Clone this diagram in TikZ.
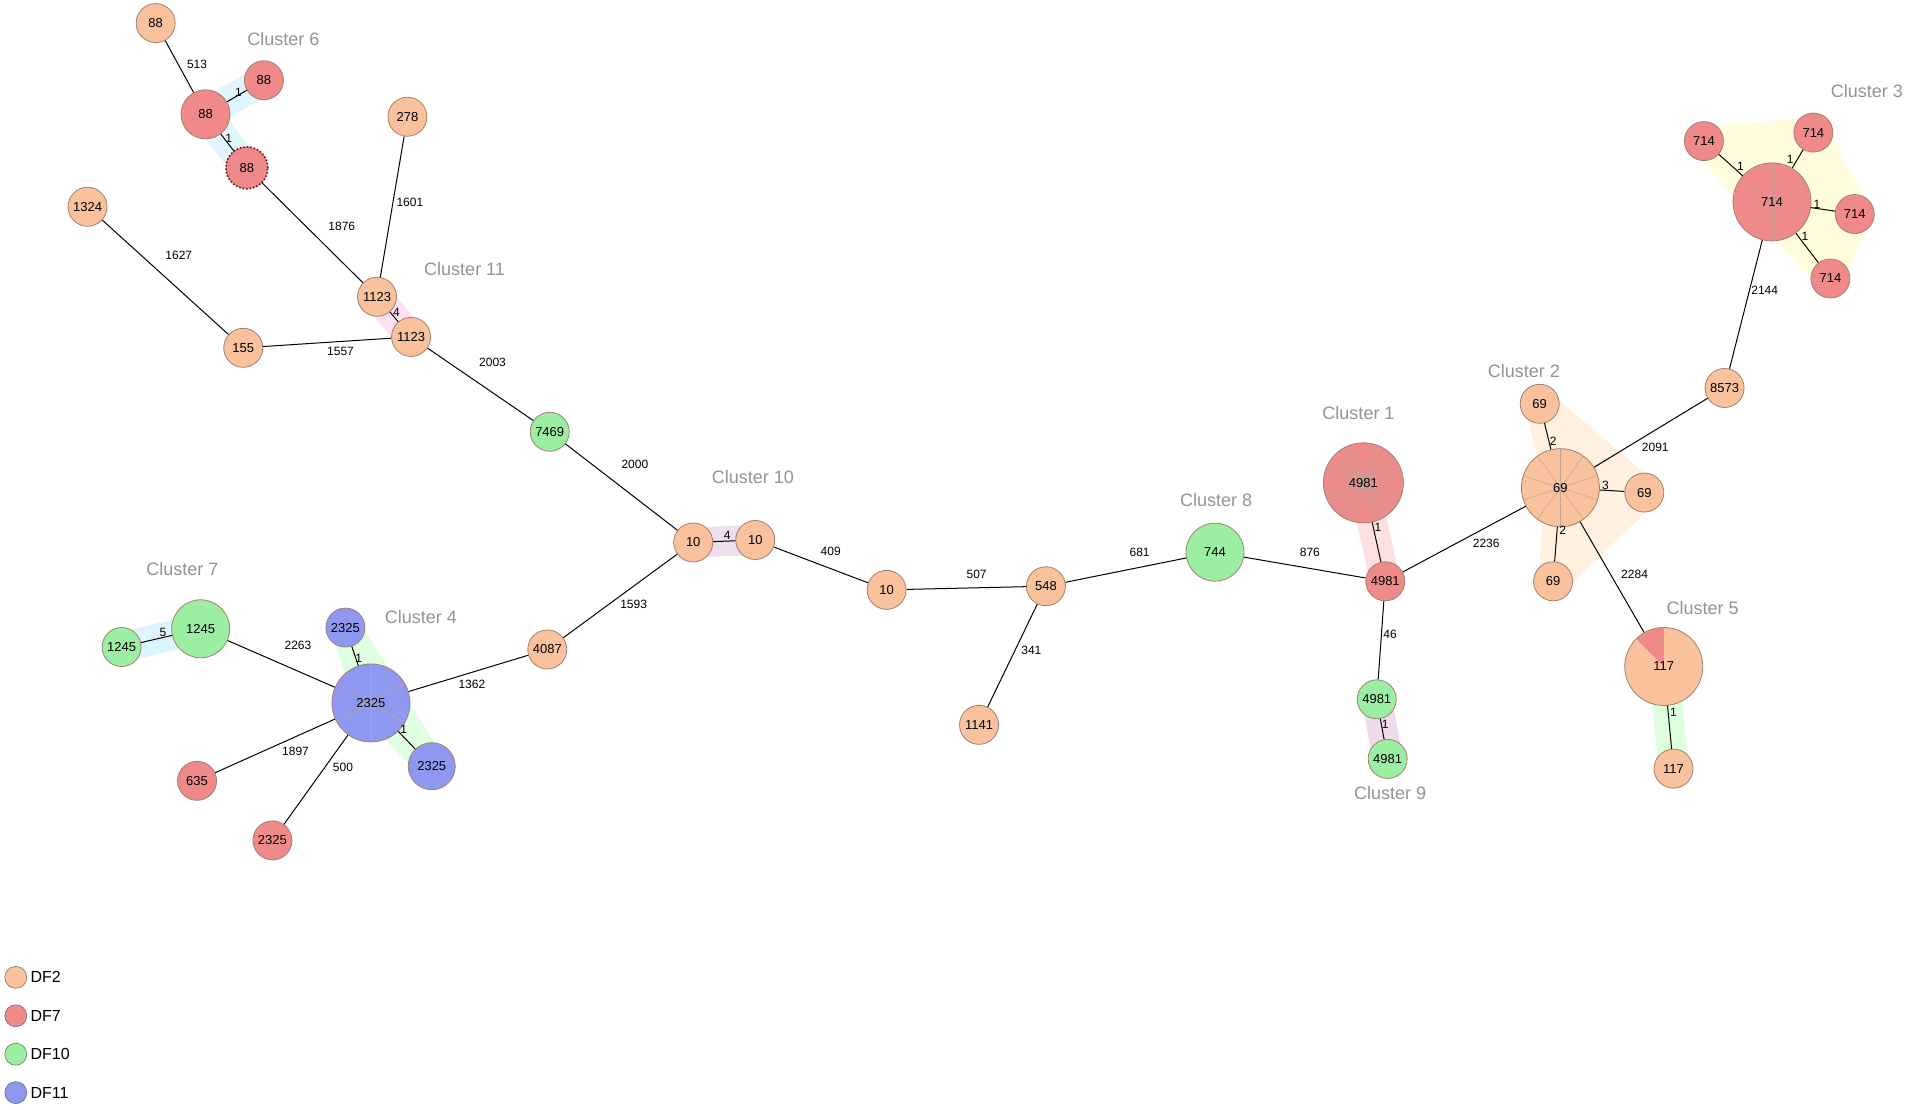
\documentclass[tikz,border=0pt]{standalone}
\usepackage{fontspec}
\setmainfont{Liberation Sans}
\definecolor{cDFtwo}{HTML}{F9C29C}
\definecolor{cDFseven}{HTML}{F08A8A}
\definecolor{cDFten}{HTML}{9CEFA2}
\definecolor{cDFeleven}{HTML}{8E98F0}
\definecolor{cRim}{HTML}{A08070}
\tikzset{
  st/.style={circle, draw=cRim, line width=0.8pt, inner sep=0pt, minimum size=39pt, font=\fontsize{13}{13}\selectfont},
  big/.style={minimum size=78pt},
  dftwo/.style={st, fill=cDFtwo},
  dfseven/.style={st, fill=cDFseven},
  dften/.style={st, fill=cDFten},
  dfeleven/.style={st, fill=cDFeleven},
  spokes/.style n args={2}{path picture={
    \foreach \k in {1,...,#1}
      \draw[cRim!70, line width=0.5pt] (path picture bounding box.center) -- +({90+360*\k/#1}:#2pt);}},
  edge/.style={line width=1pt},
  elab/.style={font=\fontsize{12}{12}\selectfont, inner sep=1pt},
  clab/.style={font=\fontsize{18}{18}\selectfont, text=gray!85},
  hull/.style={line width=30pt, line join=round, draw=#1, fill=#1},
}
\newcommand{\Elab}[3]{\node[elab] (#1) at (#2) {#3};}
\begin{document}
\begin{tikzpicture}[x=1.216pt, y=-1.216pt]
\useasboundingbox (0,0) rectangle (1568,912);

% cluster shades
\draw[hull=cyan!12] (169,94) -- (217,66) -- (169,94) -- (203,138) -- cycle;
\draw[hull=magenta!12] (310,244) -- (338,277) -- cycle;
\draw[hull=violet!13] (570,446) -- (621,444) -- cycle;
\draw[hull=cyan!14] (100,532) -- (165,517) -- cycle;
\draw[hull=green!12] (284,516) -- (305,578) -- (355,630) -- cycle;
\draw[hull=red!12] (1121,397) -- (1139,478) -- cycle;
\draw[hull=violet!14] (1132,575) -- (1141,624) -- cycle;
\draw[hull=orange!12] (1266,332) -- (1352,405) -- (1277,478) -- (1283,401) -- cycle;
\draw[hull=yellow!13] (1401,116) -- (1491,109) -- (1525,176) -- (1505,229) -- cycle;
\draw[hull=green!13] (1368,548) -- (1376,632) -- cycle;

% nodes
\node[dftwo] (a88) at (128,19) {88};
\node[dfseven, minimum size=49pt, spokes={2}{25}] (c6a) at (169,94) {88};
\node[dfseven] (c6b) at (217,66) {88};
\node[dfseven, minimum size=41pt] (c6c) at (203,138) {88};
\draw[red!55!black, dotted, line width=1.5pt] (c6c) circle (21pt);
\node[dftwo] (n278) at (335,96) {278};
\node[dftwo] (n1324) at (72,170) {1324};
\node[dftwo] (n155) at (200,286) {155};
\node[dftwo] (c11a) at (310,244) {1123};
\node[dftwo] (c11b) at (338,277) {1123};
\node[dften] (n7469) at (452,355) {7469};
\node[dftwo] (c10a) at (570,446) {10};
\node[dftwo] (c10b) at (621,444) {10};
\node[dftwo] (n10) at (729,485) {10};
\node[dftwo] (n548) at (860,482) {548};
\node[dftwo] (n1141) at (805,596) {1141};
\node[dften, minimum size=58pt] (n744) at (999,454) {744};
\node[dfseven, minimum size=80pt, spokes={40}{40}] (c1a) at (1121,397) {4981};
\node[dfseven] (c1b) at (1139,478) {4981};
\node[dften] (c9a) at (1132,575) {4981};
\node[dften] (c9b) at (1141,624) {4981};
\node[dftwo, big, spokes={10}{39}] (c2) at (1283,401) {69};
\node[dftwo] (c2t) at (1266,332) {69};
\node[dftwo] (c2r) at (1352,405) {69};
\node[dftwo] (c2b) at (1277,478) {69};
\node[dftwo] (n8573) at (1418,319) {8573};
\node[dfseven, big, spokes={6}{39}] (c3) at (1457,166) {714};
\node[dfseven] (c3a) at (1401,116) {714};
\node[dfseven] (c3b) at (1491,109) {714};
\node[dfseven] (c3c) at (1525,176) {714};
\node[dfseven] (c3d) at (1505,229) {714};
\node[dftwo, big, spokes={8}{39}, path picture={
  \fill[cDFseven] (path picture bounding box.center) -- +(90:39pt) arc (90:135:39pt) -- cycle;}] (c5) at (1368,548) {117};
\node[dftwo] (c5b) at (1376,632) {117};
\node[dftwo] (n4087) at (450,534) {4087};
\node[dfeleven, big, spokes={6}{39}] (c4) at (305,578) {2325};
\node[dfeleven] (c4t) at (284,516) {2325};
\node[dfeleven, minimum size=47pt] (c4b) at (355,630) {2325};
\node[dfseven] (n635) at (162,642) {635};
\node[dfseven] (n2325) at (224,691) {2325};
\node[dften, minimum size=58pt] (c7a) at (165,517) {1245};
\node[dften] (c7b) at (100,532) {1245};

% links
\foreach \u/\v in {a88/c6a, c6a/c6b, c6a/c6c, c6c/c11a, n278/c11a, n1324/n155,
  n155/c11b, c11a/c11b, c11b/n7469, n7469/c10a, c10a/c10b, c10b/n10,
  n4087/c10a, n10/n548, n548/n1141, n548/n744, n744/c1b, c1a/c1b, c1b/c9a,
  c9a/c9b, c1b/c2, c2/c2t, c2/c2r, c2/c2b, c2/n8573, c2/c5, c5/c5b,
  n8573/c3, c3/c3a, c3/c3b, c3/c3c, c3/c3d, c4/n4087, c4/c7a, c4/n635,
  c4/n2325, c4/c4t, c4/c4b, c7a/c7b}
  \draw[edge] (\u) -- (\v);

% link labels
\Elab{l1}{162,53}{513}
\Elab{l2}{196,76}{1}
\Elab{l3}{188,114}{1}
\Elab{l4}{281,186}{1876}
\Elab{l5}{337,166}{1601}
\Elab{l6}{147,210}{1627}
\Elab{l7}{280,289}{1557}
\Elab{l8}{326,257}{4}
\Elab{l9}{405,298}{2003}
\Elab{l10}{522,382}{2000}
\Elab{l11}{598,440}{4}
\Elab{l12}{683,453}{409}
\Elab{l13}{521,497}{1593}
\Elab{l14}{803,472}{507}
\Elab{l15}{848,535}{341}
\Elab{l16}{937,454}{681}
\Elab{l17}{1077,454}{876}
\Elab{l18}{1133,434}{1}
\Elab{l19}{1143,522}{46}
\Elab{l20}{1139,596}{1}
\Elab{l21}{1222,447}{2236}
\Elab{l22}{1277,363}{2}
\Elab{l23}{1320,399}{3}
\Elab{l24}{1285,436}{2}
\Elab{l25}{1361,368}{2091}
\Elab{l26}{1344,472}{2284}
\Elab{l27}{1376,586}{1}
\Elab{l28}{1451,239}{2144}
\Elab{l29}{1431,137}{1}
\Elab{l30}{1472,131}{1}
\Elab{l31}{1494,168}{1}
\Elab{l32}{1484,194}{1}
\Elab{l33}{388,563}{1362}
\Elab{l34}{245,531}{2263}
\Elab{l35}{243,618}{1897}
\Elab{l36}{282,631}{500}
\Elab{l37}{295,541}{1}
\Elab{l38}{332,600}{1}
\Elab{l39}{134,520}{5}

% cluster names
\node[clab] (k6) at (233,32) {Cluster 6};
\node[clab] (k11) at (382,221) {Cluster 11};
\node[clab] (k10) at (619,392) {Cluster 10};
\node[clab] (k7) at (150,468) {Cluster 7};
\node[clab] (k4) at (346,507) {Cluster 4};
\node[clab] (k8) at (1000,411) {Cluster 8};
\node[clab] (k1) at (1117,340) {Cluster 1};
\node[clab] (k9) at (1143,652) {Cluster 9};
\node[clab] (k2) at (1253,305) {Cluster 2};
\node[clab] (k3) at (1535,75) {Cluster 3};
\node[clab] (k5) at (1400,500) {Cluster 5};

% legend
\foreach \c/\t [count=\i] in {cDFtwo/DF2, cDFseven/DF7, cDFten/DF10, cDFeleven/DF11} {
  \node[circle, draw=black!70, fill=\c, minimum size=22pt, inner sep=0pt] (key\i) at (13,{772+31.6*\i}) {};
  \node[anchor=west, font=\fontsize{16}{16}\selectfont] (keyt\i) at (key\i.east) {\t};
}
\end{tikzpicture}
\end{document}
